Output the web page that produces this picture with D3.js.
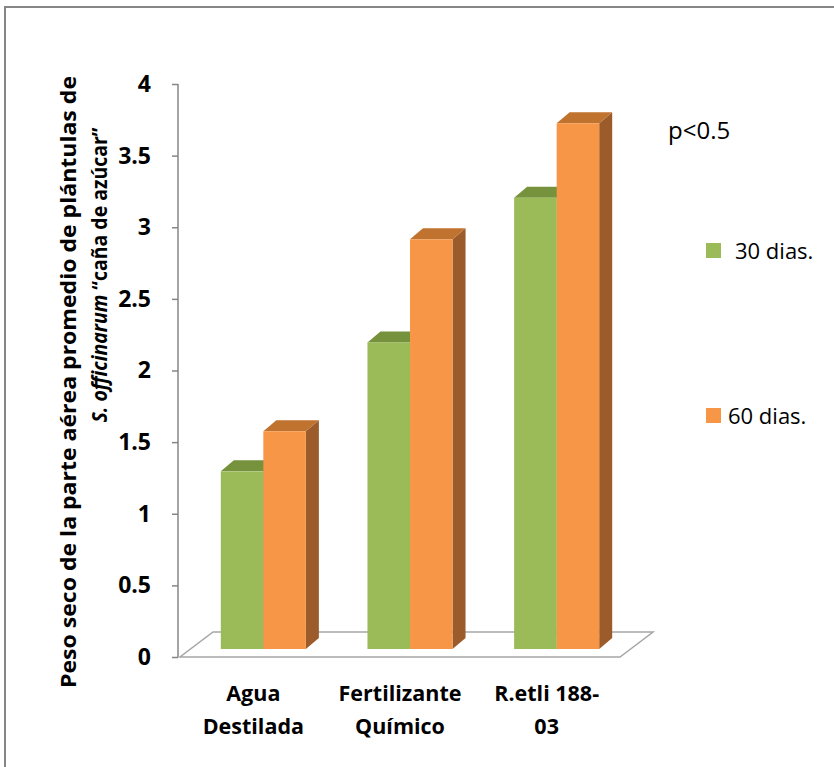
<!DOCTYPE html>
<html>
<head>
<meta charset="utf-8">
<script src="https://cdn.jsdelivr.net/npm/d3@7"></script>
<style>
  body { margin: 0; background: #fff; }
  text { font-family: "Open Sans", "Liberation Sans", sans-serif; fill: #000; }
</style>
</head>
<body>
<div id="wrapper"></div>
<script>
// data
const categories = ["Agua Destilada", "Fertilizante Químico", "R.etli 188-03"];
const categoryLines = [["Agua", "Destilada"], ["Fertilizante", "Químico"], ["R.etli 188-", "03"]];
const seriesNames = ["30 dias.", "60 dias."];
const values30 = [1.24, 2.14, 3.15];
const values60 = [1.52, 2.86, 3.67];
const yTickValues = [0, 0.5, 1, 1.5, 2, 2.5, 3, 3.5, 4];

const colors = {
    "30 dias.": { front: "#9bbb59", top: "#76923c", side: "#6f8a3a" },
    "60 dias.": { front: "#f79646", top: "#c0722f", side: "#9c5b2a" }
};

const rows = categories.map((c, i) => ({
    cat: c,
    vals: [
        { name: seriesNames[0], v: values30[i] },
        { name: seriesNames[1], v: values60[i] }
    ]
}));

const dimension = { width: 834, height: 767 };

const svg = d3.select("#wrapper").append("svg")
    .attr("width", dimension.width)
    .attr("height", dimension.height);

// outer frame (runs off the picture right and bottom)
svg.append("rect")
    .attr("x", 5).attr("y", 7)
    .attr("width", 860).attr("height", 800)
    .attr("fill", "none")
    .attr("stroke", "#868686")
    .attr("stroke-width", 2);

// plot geometry
const plot = { left: 180, right: 620, bottom: 657, top: 84 };
const depth = { dx: 33, dy: -25 };      // floor depth
const barOffset = { dx: 10, dy: -8 };   // where bars start in depth
const barDepth = { dx: 13, dy: -11 };   // how deep each bar is

const yScaler = d3.scaleLinear().domain([0, 4]).range([plot.bottom, plot.top]);

const x0 = d3.scaleBand()
    .domain(categories)
    .range([plot.left, plot.right])
    .paddingInner(0.42)
    .paddingOuter(0.21);

const x1 = d3.scaleBand()
    .domain(seriesNames)
    .range([0, x0.bandwidth()]);

// floor
const floorPts = [
    [plot.left, plot.bottom],
    [plot.right, plot.bottom],
    [plot.right + depth.dx, plot.bottom + depth.dy],
    [plot.left + depth.dx, plot.bottom + depth.dy]
];
svg.append("path")
    .attr("d", d3.line()(floorPts) + "Z")
    .attr("fill", "none")
    .attr("stroke", "#a6a6a6")
    .attr("stroke-width", 1.5);

// y axis
const yAxis = d3.axisLeft(yScaler)
    .tickValues(yTickValues)
    .tickFormat(d => d)
    .tickSize(6)
    .tickPadding(21);

const axisG = svg.append("g")
    .attr("transform", `translate(${plot.left - 2},0)`)
    .call(yAxis);
axisG.select(".domain").attr("stroke", "#868686").attr("stroke-width", 1.5)
    .attr("d", `M0,${plot.top}V${plot.bottom}`);
axisG.selectAll(".tick line").attr("stroke", "#868686").attr("stroke-width", 1.5);
axisG.selectAll(".tick text")
    .attr("font-size", 23)
    .attr("font-weight", "bold")
    .attr("fill", "#000")
    .style("font-family", "'Open Sans', sans-serif");

// bars
const bars = svg.append("g");
rows.forEach(row => {
    row.vals.forEach(d => {
        const xa = x0(row.cat) + x1(d.name) + barOffset.dx;
        const xb = xa + x1.bandwidth();
        const yb = yScaler(0) + barOffset.dy;
        const yt = yScaler(d.v) + barOffset.dy;
        const c = colors[d.name];
        // side
        bars.append("path")
            .attr("d", d3.line()([[xb, yb], [xb + barDepth.dx, yb + barDepth.dy], [xb + barDepth.dx, yt + barDepth.dy], [xb, yt]]) + "Z")
            .attr("fill", c.side);
        // top
        bars.append("path")
            .attr("d", d3.line()([[xa, yt], [xb, yt], [xb + barDepth.dx, yt + barDepth.dy], [xa + barDepth.dx, yt + barDepth.dy]]) + "Z")
            .attr("fill", c.top);
        // front
        bars.append("rect")
            .attr("x", xa).attr("y", yt)
            .attr("width", x1.bandwidth()).attr("height", yb - yt)
            .attr("fill", c.front);
    });
});

// category labels
const catG = svg.append("g");
categories.forEach((c, i) => {
    const cx = x0(c) + x0.bandwidth() / 2;
    categoryLines[i].forEach((line, j) => {
        catG.append("text")
            .attr("x", cx)
            .attr("y", 701 + j * 33)
            .attr("text-anchor", "middle")
            .attr("font-size", 21.5)
            .attr("font-weight", "bold")
            .text(line);
    });
});

// y axis title
svg.append("text")
    .attr("transform", "translate(76,382) rotate(-90)")
    .attr("text-anchor", "middle")
    .attr("font-size", 21)
    .attr("font-weight", "bold")
    .attr("textLength", 612)
    .attr("lengthAdjust", "spacingAndGlyphs")
    .text("Peso seco de la parte aérea promedio de plántulas de");

const t2 = svg.append("text")
    .attr("transform", "translate(107,275) rotate(-90)")
    .attr("text-anchor", "middle")
    .attr("font-size", 21)
    .attr("font-weight", "bold")
    .attr("textLength", 295)
    .attr("lengthAdjust", "spacingAndGlyphs");
t2.append("tspan").attr("font-style", "italic").text("S. officinarum ");
t2.append("tspan").text("“caña de azúcar”");

// annotation
svg.append("text")
    .attr("x", 668).attr("y", 139)
    .attr("font-size", 24)
    .text("p<0.5");

// legend
const legendY = [250, 415];
const legendTextX = [735, 728];
seriesNames.forEach((s, i) => {
    svg.append("rect")
        .attr("x", 706).attr("y", legendY[i] - 7)
        .attr("width", 15).attr("height", 15)
        .attr("fill", colors[s].front);
    svg.append("text")
        .attr("x", legendTextX[i]).attr("y", legendY[i] + 9)
        .attr("font-size", 22)
        .text(s);
});
</script>
</body>
</html>
